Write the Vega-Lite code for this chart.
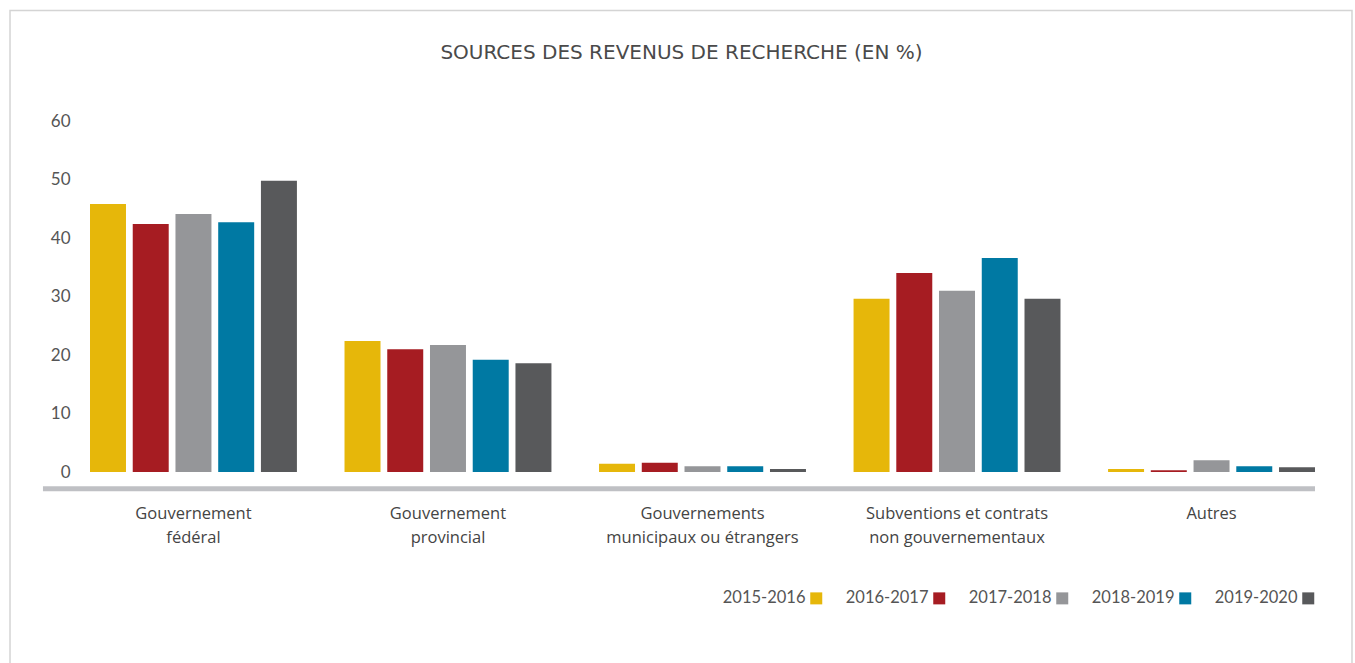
{
  "$schema": "https://vega.github.io/schema/vega-lite/v6.json",
  "width": 1225,
  "height": 351,
  "autosize": {"type": "none"},
  "padding": {"left": 90, "top": 121, "right": 40, "bottom": 191},
  "background": "white",
  "config": {"font": "Lato", "view": {"stroke": null}},
  "title": {
    "text": "SOURCES DES REVENUS DE RECHERCHE (EN %)",
    "frame": "group",
    "anchor": "middle",
    "dx": -21,
    "offset": -53,
    "fontSize": 20,
    "fontWeight": "normal",
    "color": "#4a4a4a",
    "font": "DejaVu Sans"
  },
  "data": {
    "values": [
      {"categorie": "Gouvernement fédéral", "annee": "2015-2016", "valeur": 45.8},
      {"categorie": "Gouvernement fédéral", "annee": "2016-2017", "valeur": 42.4},
      {"categorie": "Gouvernement fédéral", "annee": "2017-2018", "valeur": 44.1},
      {"categorie": "Gouvernement fédéral", "annee": "2018-2019", "valeur": 42.7},
      {"categorie": "Gouvernement fédéral", "annee": "2019-2020", "valeur": 49.8},
      {"categorie": "Gouvernement provincial", "annee": "2015-2016", "valeur": 22.4},
      {"categorie": "Gouvernement provincial", "annee": "2016-2017", "valeur": 21.0},
      {"categorie": "Gouvernement provincial", "annee": "2017-2018", "valeur": 21.7},
      {"categorie": "Gouvernement provincial", "annee": "2018-2019", "valeur": 19.2},
      {"categorie": "Gouvernement provincial", "annee": "2019-2020", "valeur": 18.6},
      {"categorie": "Gouvernements municipaux ou étrangers", "annee": "2015-2016", "valeur": 1.4},
      {"categorie": "Gouvernements municipaux ou étrangers", "annee": "2016-2017", "valeur": 1.6},
      {"categorie": "Gouvernements municipaux ou étrangers", "annee": "2017-2018", "valeur": 1.0},
      {"categorie": "Gouvernements municipaux ou étrangers", "annee": "2018-2019", "valeur": 1.0},
      {"categorie": "Gouvernements municipaux ou étrangers", "annee": "2019-2020", "valeur": 0.5},
      {"categorie": "Subventions et contrats non gouvernementaux", "annee": "2015-2016", "valeur": 29.6},
      {"categorie": "Subventions et contrats non gouvernementaux", "annee": "2016-2017", "valeur": 34.0},
      {"categorie": "Subventions et contrats non gouvernementaux", "annee": "2017-2018", "valeur": 31.0},
      {"categorie": "Subventions et contrats non gouvernementaux", "annee": "2018-2019", "valeur": 36.6},
      {"categorie": "Subventions et contrats non gouvernementaux", "annee": "2019-2020", "valeur": 29.6},
      {"categorie": "Autres", "annee": "2015-2016", "valeur": 0.5},
      {"categorie": "Autres", "annee": "2016-2017", "valeur": 0.3},
      {"categorie": "Autres", "annee": "2017-2018", "valeur": 2.0},
      {"categorie": "Autres", "annee": "2018-2019", "valeur": 1.0},
      {"categorie": "Autres", "annee": "2019-2020", "valeur": 0.8}
    ]
  },
  "layer": [
    {
      "data": {"values": [{}]},
      "mark": {"type": "rect", "filled": false, "stroke": "#d4d4d4", "strokeWidth": 1.5, "clip": false},
      "encoding": {
        "x": {"datum": -0.0653, "type": "quantitative", "scale": {"domain": [0, 1]}, "axis": null},
        "x2": {"datum": 1.0302},
        "y": {"datum": 78.9, "type": "quantitative", "scale": {"domain": [0, 60]}},
        "y2": {"datum": -34}
      }
    },
    {
      "data": {"values": [{}]},
      "mark": {"type": "rule", "color": "#bfc0c4", "strokeWidth": 5, "clip": false},
      "encoding": {
        "x": {"datum": -0.0384, "type": "quantitative", "scale": {"domain": [0, 1]}, "axis": null},
        "x2": {"datum": 1},
        "y": {"datum": -2.85, "type": "quantitative", "scale": {"domain": [0, 60]}}
      }
    },
    {
      "mark": {"type": "bar"},
      "encoding": {
        "x": {
          "field": "categorie",
          "type": "nominal",
          "sort": null,
          "scale": {"paddingInner": 0.187, "paddingOuter": 0},
          "axis": {
            "title": null,
            "domain": false,
            "ticks": false,
            "labelAngle": 0,
            "labelFont": "Open Sans",
            "labelFontSize": 16.5,
            "labelColor": "#444444",
            "labelPadding": 33,
            "labelLineHeight": 24,
            "labelLimit": 400,
            "labelExpr": "datum.value == 'Gouvernement fédéral' ? ['Gouvernement', 'fédéral'] : datum.value == 'Gouvernement provincial' ? ['Gouvernement', 'provincial'] : datum.value == 'Gouvernements municipaux ou étrangers' ? ['Gouvernements', 'municipaux ou étrangers'] : datum.value == 'Subventions et contrats non gouvernementaux' ? ['Subventions et contrats', 'non gouvernementaux'] : datum.value"
          }
        },
        "xOffset": {
          "field": "annee",
          "type": "nominal",
          "scale": {"paddingInner": 0.158, "paddingOuter": 0}
        },
        "y": {
          "field": "valeur",
          "type": "quantitative",
          "scale": {"domain": [0, 60]},
          "axis": {
            "title": null,
            "values": [0, 10, 20, 30, 40, 50, 60],
            "domain": false,
            "ticks": false,
            "labelFontSize": 17,
            "labelColor": "#555555",
            "labelPadding": 20,
            "gridColor": "#bdbdbd",
            "gridDash": [1, 2],
            "gridWidth": 1
          }
        },
        "color": {
          "field": "annee",
          "type": "nominal",
          "scale": {
            "domain": ["2015-2016", "2016-2017", "2017-2018", "2018-2019", "2019-2020"],
            "range": ["#e6b70a", "#a61c22", "#959699", "#0079a3", "#58595b"]
          },
          "legend": {
            "orient": "none",
            "legendX": 718,
            "legendY": 469,
            "direction": "horizontal",
            "title": null,
            "symbolType": "square",
            "symbolSize": 144,
            "symbolStrokeWidth": 0,
            "labelAlign": "right",
            "labelOffset": -19,
            "labelFontSize": 16.5,
            "labelColor": "#555555",
            "columnPadding": 22
          }
        }
      }
    }
  ],
  "resolve": {"scale": {"x": "independent"}}
}
